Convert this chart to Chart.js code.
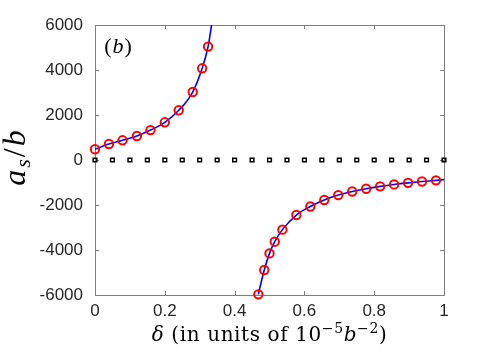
<!DOCTYPE html>
<html>
<head>
<meta charset="utf-8">
<script src="https://cdn.jsdelivr.net/npm/chart.js@4"></script>
<style>
  html, body { margin: 0; padding: 0; background: #fff; }
  canvas { display: block; }
</style>
</head>
<body>
<canvas id="c" width="491" height="359"></canvas>
<script>
// red circles, lower-delta branch
const deltaLeft = [0, 0.04, 0.079, 0.12, 0.159, 0.2, 0.24, 0.28, 0.307, 0.324]
const asLeft = [480, 710, 875, 1065, 1330, 1675, 2210, 3020, 4075, 5040]

// red circles, upper-delta branch
const deltaRight = [0.468, 0.485, 0.5, 0.515, 0.537, 0.577, 0.617, 0.657, 0.697, 0.737, 0.777, 0.817, 0.857, 0.897, 0.937, 0.977]
const asRight = [-5970, -4890, -4150, -3630, -3095, -2445, -2065, -1778, -1560, -1402, -1276, -1172, -1086, -1016, -956, -905]

// blue curve ends beyond the circles
const curveLeftDelta = [0, 0.04, 0.079, 0.12, 0.159, 0.2, 0.24, 0.28, 0.307, 0.324, 0.334]
const curveLeftAs = [480, 710, 875, 1065, 1330, 1675, 2210, 3020, 4075, 5040, 6000]
const curveRightDelta = [0.468, 0.485, 0.5, 0.515, 0.537, 0.577, 0.617, 0.657, 0.697, 0.737, 0.777, 0.817, 0.857, 0.897, 0.937, 0.977, 1]
const curveRightAs = [-5970, -4890, -4150, -3630, -3095, -2445, -2065, -1778, -1560, -1402, -1276, -1172, -1086, -1016, -956, -905, -870]

// black squares on zero
const deltaZero = [0, 0.05, 0.1, 0.15, 0.2, 0.25, 0.3, 0.35, 0.4, 0.45, 0.5, 0.55, 0.6, 0.65, 0.7, 0.75, 0.8, 0.85, 0.9, 0.95, 1]
const asZero = [0, 0, 0, 0, 0, 0, 0, 0, 0, 0, 0, 0, 0, 0, 0, 0, 0, 0, 0, 0, 0]

const xTicks = [0, 0.2, 0.4, 0.6, 0.8, 1]
const yTicks = [-6000, -4000, -2000, 0, 2000, 4000, 6000]

const AXIS = '#7f7f7f'
const TEXT = '#262626'
const SERIF = '"Liberation Serif", "DejaVu Serif", serif'
const WIDE_SERIF = '"DejaVu Serif", "Liberation Serif", serif'

const pts = (xs, ys) => xs.map((x, i) => ({ x, y: ys[i] }))

// draw a run of differently styled text pieces, left to right
function drawRun (ctx, parts, cx, by, gap) {
  let w = 0
  parts.forEach(p => { ctx.font = p.f; p.w = ctx.measureText(p.t).width; w += p.w })
  w += gap * (parts.length - 1)
  let x = cx - w / 2
  parts.forEach(p => { ctx.font = p.f; ctx.fillText(p.t, x, by + p.dy); x += p.w + gap })
}

// box + inward ticks, like matlab axes
const boxPlugin = {
  id: 'box',
  beforeDatasetsDraw (chart) {
    const { ctx, chartArea: a, scales } = chart
    ctx.save()
    ctx.strokeStyle = AXIS
    ctx.lineWidth = 1
    ctx.strokeRect(a.left + 0.5, a.top + 0.5, a.right - a.left, a.bottom - a.top)
    const tl = 4
    ctx.beginPath()
    xTicks.forEach(v => {
      const px = Math.round(scales.x.getPixelForValue(v)) + 0.5
      ctx.moveTo(px, a.bottom); ctx.lineTo(px, a.bottom - tl)
      ctx.moveTo(px, a.top); ctx.lineTo(px, a.top + tl)
    })
    yTicks.forEach(v => {
      const py = Math.round(scales.y.getPixelForValue(v)) + 0.5
      ctx.moveTo(a.left, py); ctx.lineTo(a.left + tl, py)
      ctx.moveTo(a.right, py); ctx.lineTo(a.right - tl, py)
    })
    ctx.stroke()
    ctx.restore()
  },
  afterDraw (chart) {
    const { ctx, chartArea: a } = chart
    ctx.save()
    ctx.fillStyle = '#000'
    ctx.textBaseline = 'alphabetic'

    // panel label
    drawRun(ctx, [
      { t: '(', f: '22px ' + SERIF, dy: 0 },
      { t: 'b', f: 'italic 22px ' + SERIF, dy: 0 },
      { t: ')', f: '22px ' + SERIF, dy: 0 },
    ], a.left + 23, a.top + 28, 1)

    // x title: delta (in units of 10^-5 b^-2)
    ctx.letterSpacing = '0.6px'
    drawRun(ctx, [
      { t: 'δ', f: 'italic 20px ' + WIDE_SERIF, dy: 0 },
      { t: ' (in units of 10', f: '20px ' + WIDE_SERIF, dy: 0 },
      { t: '−5', f: '14px ' + WIDE_SERIF, dy: -8 },
      { t: 'b', f: 'italic 20px ' + WIDE_SERIF, dy: 0 },
      { t: '−2', f: '14px ' + WIDE_SERIF, dy: -8 },
      { t: ')', f: '20px ' + WIDE_SERIF, dy: 0 },
    ], (a.left + a.right) / 2, 341, 0)
    ctx.letterSpacing = '0px'

    // y title: a_s / b, rotated
    ctx.translate(25, 158)
    ctx.rotate(-Math.PI / 2)
    drawRun(ctx, [
      { t: 'a', f: 'italic 32px ' + SERIF, dy: 0 },
      { t: 's', f: 'italic 22px ' + SERIF, dy: 5 },
      { t: '/', f: '32px ' + SERIF, dy: 0 },
      { t: 'b', f: 'italic 32px ' + SERIF, dy: 0 },
    ], 0, 0, 2)
    ctx.restore()
  },
}

const blueLine = data => ({
  data,
  showLine: true,
  borderColor: '#0000ff',
  borderWidth: 1.6,
  pointRadius: 0,
  cubicInterpolationMode: 'monotone',
  fill: false,
  order: 3,
})

const redCircles = data => ({
  data,
  showLine: false,
  pointStyle: 'circle',
  pointRadius: 4.2,
  borderColor: '#ff0000',
  backgroundColor: 'rgba(0,0,0,0)',
  borderWidth: 2,
  clip: false,
  order: 2,
})

new Chart(document.getElementById('c'), {
  type: 'scatter',
  data: {
    datasets: [
      blueLine(pts(curveLeftDelta, curveLeftAs)),
      blueLine(pts(curveRightDelta, curveRightAs)),
      redCircles(pts(deltaLeft, asLeft)),
      redCircles(pts(deltaRight, asRight)),
      {
        data: pts(deltaZero, asZero),
        showLine: false,
        pointStyle: 'rect',
        pointRadius: 2.6,
        borderColor: '#000',
        backgroundColor: 'rgba(0,0,0,0)',
        borderWidth: 1.5,
        clip: false,
        order: 1,
      },
    ],
  },
  options: {
    responsive: false,
    animation: false,
    layout: { autoPadding: false, padding: { left: 0, right: 47, top: 25, bottom: 0 } },
    plugins: { legend: { display: false }, tooltip: { enabled: false } },
    scales: {
      x: {
        type: 'linear',
        min: 0,
        max: 1,
        grid: { display: false, drawTicks: false },
        border: { display: false },
        afterFit (s) { s.height = 64 },
        afterBuildTicks (s) { s.ticks = xTicks.map(v => ({ value: v })) },
        ticks: {
          color: TEXT,
          padding: 6,
          maxRotation: 0,
          font: { family: '"Liberation Sans", Arial, sans-serif', size: 17 },
          callback: v => String(v),
        },
      },
      y: {
        type: 'linear',
        min: -6000,
        max: 6000,
        grid: { display: false, drawTicks: false },
        border: { display: false },
        afterFit (s) { s.width = 95 },
        afterBuildTicks (s) { s.ticks = yTicks.map(v => ({ value: v })) },
        ticks: {
          color: TEXT,
          padding: 12,
          font: { family: '"Liberation Sans", Arial, sans-serif', size: 17 },
          callback: v => String(v),
        },
      },
    },
  },
  plugins: [boxPlugin],
})
</script>
</body>
</html>
